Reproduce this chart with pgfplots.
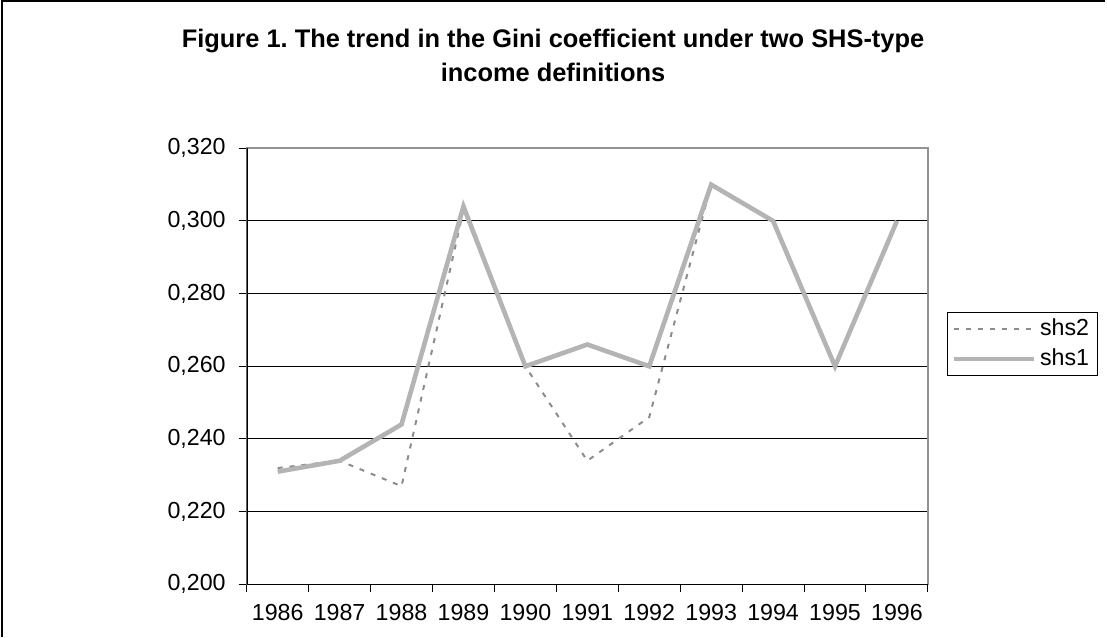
\documentclass[border=0pt]{standalone}
\usepackage{fontspec}
\setmainfont{Liberation Sans}
\usepackage{pgfplots}
\pgfplotsset{compat=1.18}
\definecolor{solidgray}{HTML}{B4B4B4}
\definecolor{dashgray}{HTML}{8C8C8C}
\begin{document}
\frenchspacing
\fontsize{11.5}{14}\selectfont
\begin{tikzpicture}
\path[use as bounding box] (0pt,0pt) rectangle (553.5pt,318.5pt);
\draw[black, line width=1pt] (1pt,0pt) -- (1pt,317.75pt) -- (552.5pt,317.75pt);
\node[font=\fontsize{12.7}{17}\selectfont\bfseries, align=center] at (276.5pt,291pt)
  {Figure 1. The trend in the Gini coefficient under two SHS-type\\income definitions};
\begin{axis}[
  at={(123.35pt,26.35pt)}, anchor=south west,
  scale only axis, width=340.6pt, height=218pt,
  xmin=0, xmax=11, ymin=0.2, ymax=0.32,
  axis line style={draw=gray!85, line width=0.8pt},
  xtick={0.5,1.5,...,10.5},
  xticklabels={1986,1987,1988,1989,1990,1991,1992,1993,1994,1995,1996},
  minor xtick={0,1,...,11},
  major x tick style={draw=none},
  minor x tick style={black, line width=0.5pt},
  minor tick length=4pt,
  ytick={0.2,0.22,...,0.321},
  y tick style={black, line width=0.5pt},
  major tick length=4pt,
  tick align=outside, tick pos=left,
  ymajorgrids, grid style={black, line width=0.5pt},
  yticklabel style={xshift=-2.5pt, /pgf/number format/.cd, fixed, fixed zerofill, precision=3, use comma, assume math mode=true},
  tick label style={font=\fontsize{11.6}{14}\selectfont},
  xticklabel style={yshift=-2pt},
  legend style={at={(1.028,0.6245)}, anchor=north west, draw=black, line width=0.5pt,
    font=\fontsize{11.6}{14}\selectfont, inner xsep=2pt, inner ysep=1pt, row sep=1pt,
    cells={anchor=west}},
  legend image code/.code={\draw[#1] (0pt,0pt) -- (40pt,0pt);},
]
\addplot[dashgray, line width=1pt, dash pattern=on 2.5pt off 3.5pt] coordinates {
(0.5,0.232) (1.5,0.234) (2.5,0.227) (3.5,0.303) (4.5,0.260) (5.5,0.234)
(6.5,0.246) (7.5,0.310) (8.5,0.300) (9.5,0.260) (10.5,0.300)};
\addlegendentry{shs2}
\addplot[solidgray, line width=2.3pt] coordinates {
(0.5,0.231) (1.5,0.234) (2.5,0.244) (3.5,0.304) (4.5,0.260) (5.5,0.266)
(6.5,0.260) (7.5,0.310) (8.5,0.300) (9.5,0.260) (10.5,0.300)};
\addlegendentry{shs1}
\draw[black, line width=0.8pt] (rel axis cs:0,1) -- (rel axis cs:0,0) -- (rel axis cs:1,0);
\end{axis}
\end{tikzpicture}
\end{document}
